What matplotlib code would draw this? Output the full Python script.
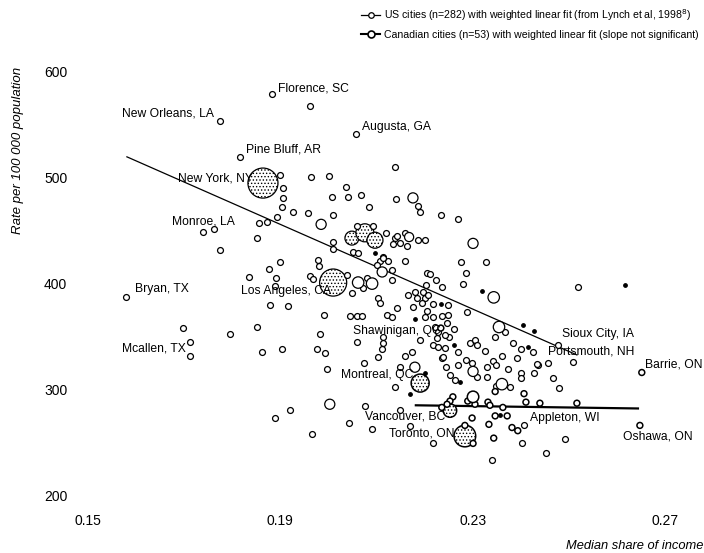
import matplotlib
matplotlib.use("Agg")
import matplotlib.pyplot as plt
from matplotlib.lines import Line2D
import numpy as np

plt.rcParams['font.family'] = ['Liberation Sans', 'DejaVu Sans']
plt.rcParams['hatch.linewidth'] = 0.6

# US cities: median share of income vs mortality rate (small open circles)
us_x = [0.1775, 0.1883, 0.1962, 0.2057, 0.1816, 0.2139, 0.1900, 0.1964, 0.2001, 0.2037,
        0.2041, 0.2068, 0.2008, 0.2084, 0.2141, 0.2186, 0.2191, 0.2234, 0.2270, 0.2010,
        0.1926, 0.1958, 0.1893, 0.1872, 0.1856, 0.1852, 0.1906, 0.1906, 0.1904, 0.1739,
        0.1762, 0.1775, 0.1900, 0.1876, 0.1978, 0.1980, 0.2010, 0.2010, 0.1835, 0.1891,
        0.1889, 0.1962, 0.1968, 0.1879, 0.1916, 0.1991, 0.1852, 0.1795, 0.1983, 0.2045,
        0.2060, 0.2070, 0.2039, 0.2072, 0.2080, 0.2103, 0.2107, 0.2049, 0.2060, 0.2093,
        0.2120, 0.2139, 0.2051, 0.2062, 0.2114, 0.2107, 0.2124, 0.2101, 0.2132, 0.2132,
        0.2122, 0.2132, 0.2143, 0.2143, 0.2159, 0.2186, 0.2201, 0.2134, 0.2149, 0.2164,
        0.2114, 0.2159, 0.2276, 0.2328, 0.2286, 0.2205, 0.2211, 0.2224, 0.2236, 0.2280,
        0.2203, 0.2519, 0.2180, 0.2197, 0.2184, 0.2201, 0.2195, 0.2176, 0.2207, 0.2166,
        0.2218, 0.2249, 0.2205, 0.2249, 0.2288, 0.2201, 0.2218, 0.2236, 0.2247, 0.2261,
        0.2222, 0.2228, 0.2251, 0.2191, 0.2226, 0.2218, 0.2228, 0.2243, 0.2270, 0.2367,
        0.2347, 0.2295, 0.2305, 0.2309, 0.2326, 0.2384, 0.2401, 0.2478, 0.2361, 0.2392,
        0.2342, 0.2286, 0.2299, 0.2436, 0.2457, 0.2509, 0.2159, 0.2174, 0.2236, 0.2149,
        0.2245, 0.2270, 0.2330, 0.2114, 0.2114, 0.1862, 0.1904, 0.1976, 0.1993, 0.2060,
        0.1997, 0.2074, 0.2112, 0.2103, 0.2139, 0.2238, 0.2243, 0.2330, 0.2309, 0.2253,
        0.2263, 0.2426, 0.2349, 0.2374, 0.2401, 0.2401, 0.2434, 0.2428, 0.2467, 0.2480,
        0.2349, 0.2378, 0.1579, 0.1712, 0.1698, 0.1712, 0.1920, 0.1889, 0.2043, 0.2076,
        0.1966, 0.2091, 0.2149, 0.2170, 0.2218, 0.2407, 0.2403, 0.2453, 0.2492, 0.2340]
us_y = [554, 579, 568, 541, 520, 510, 503, 501, 502, 491,
        482, 484, 482, 472, 480, 473, 468, 465, 461, 465,
        468, 467, 463, 458, 457, 443, 490, 481, 472, 449,
        452, 432, 420, 414, 422, 417, 439, 433, 406, 405,
        398, 407, 404, 380, 379, 370, 359, 352, 352, 369,
        369, 369, 408, 396, 405, 386, 382, 391, 454, 454,
        448, 443, 430, 429, 425, 421, 421, 418, 413, 403,
        370, 368, 377, 445, 448, 441, 441, 437, 438, 436,
        424, 421, 420, 420, 410, 410, 409, 403, 397, 400,
        399, 397, 392, 392, 386, 386, 382, 378, 389, 389,
        381, 380, 374, 370, 373, 368, 368, 369, 363, 357,
        359, 354, 350, 347, 349, 342, 340, 339, 335, 354,
        350, 344, 347, 342, 336, 344, 338, 342, 332, 330,
        327, 328, 325, 323, 325, 326, 332, 335, 330, 321,
        321, 323, 321, 350, 344, 335, 338, 338, 334, 345,
        319, 325, 338, 331, 302, 331, 351, 312, 312, 314,
        309, 335, 323, 319, 316, 311, 324, 316, 311, 301,
        303, 302, 387, 332, 358, 345, 281, 273, 268, 284,
        258, 263, 281, 265, 249, 266, 249, 240, 253, 233]

# US cities drawn as small filled dots
us_dot_x = [0.2097, 0.2320, 0.2617, 0.2234, 0.2180, 0.2261, 0.2405, 0.2428, 0.2415, 0.2201,
            0.2170, 0.2274]
us_dot_y = [429, 393, 399, 381, 367, 342, 361, 355, 340, 316, 296, 307]

# larger US cities (relative population weight)
us_big_x = [0.1864, 0.2010, 0.2049, 0.2076, 0.2097, 0.1985, 0.2176, 0.2168, 0.2112, 0.2344,
            0.2355, 0.2361, 0.2180, 0.2301, 0.2301, 0.2003, 0.2062, 0.2091]
us_big_y = [495, 401, 443, 448, 441, 456, 481, 444, 411, 387,
            359, 305, 321, 317, 438, 286, 401, 400]
us_big_w = [18, 14.5, 3.3, 6, 4.6, 1.4, 1.4, 1, 1.4, 2,
            2, 2, 1.4, 1.4, 1.4, 1.4, 2, 2]

# Canadian cities
ca_x = [0.2191, 0.2284, 0.2253, 0.2234, 0.2652, 0.2648, 0.2259, 0.2253, 0.2247, 0.2290,
        0.2305, 0.2332, 0.2336, 0.2363, 0.2411, 0.2440, 0.2517, 0.2299, 0.2347, 0.2372,
        0.2334, 0.2382, 0.2394, 0.2284, 0.2301, 0.2344, 0.2236, 0.2407, 0.2347, 0.2301]
ca_y = [306, 256, 280, 358, 316, 266, 293, 289, 286, 289,
        286, 288, 285, 283, 288, 287, 287, 273, 275, 275,
        267, 264, 261, 266, 249, 254, 283, 296, 298, 293]
ca_w = [6, 9, 3, 0, 0, 0, 0, 0, 0, 0,
        0, 0, 0, 0, 0, 0, 0, 0, 0, 0,
        0, 0, 0, 0, 0, 0, 0, 0, 0, 2]
ca_dot_x = [0.2357]
ca_dot_y = [276]

# weighted linear fits
us_fit_x = [0.1581, 0.2517]
us_fit_slope, us_fit_icpt = -2000.0, 836.0
ca_fit_x = [0.2182, 0.2644]
ca_fit_slope, ca_fit_icpt = -65.0, 299.2

# labelled cities
label_text = ['New Orleans, LA', 'Florence, SC', 'Augusta, GA', 'Pine Bluff, AR', 'New York, NY',
              'Monroe, LA', 'Bryan, TX', 'Mcallen, TX', 'Los Angeles, CA', 'Shawinigan, QC',
              'Montreal, QC', 'Vancouver, BC', 'Toronto, ON', 'Appleton, WI', 'Oshawa, ON',
              'Barrie, ON', 'Sioux City, IA', 'Portsmouth, NH']
label_x = [0.1775, 0.1883, 0.2057, 0.1816, 0.1864, 0.1739, 0.1579, 0.1712, 0.2010, 0.2234,
           0.2191, 0.2253, 0.2284, 0.2407, 0.2648, 0.2652, 0.2478, 0.2509]
label_y = [554, 579, 541, 520, 495, 449, 387, 332, 401, 358,
           306, 280, 256, 266, 266, 316, 342, 326]
# text offsets in pixels and alignment
label_off = [(-6, 7, 'right'), (6, 6, 'left'), (6, 7, 'left'), (6, 7, 'left'), (-10, 5, 'right'),
             (-31, 10, 'left'), (9, 8, 'left'), (-4, 7, 'right'), (-2, -8, 'right'), (0, -3, 'right'),
             (-7, 8, 'right'), (-5, -6, 'right'), (-10, 2, 'right'), (6, 7, 'left'), (-17, -11, 'left'),
             (3, 8, 'left'), (4, 11, 'left'), (-25, 10, 'left')]


def msize(w):
    return 18 + 25 * np.asarray(w, dtype=float)


fig = plt.figure(figsize=(7.04, 5.53), dpi=100)
ax = fig.add_axes([0.0994, 0.0958, 0.8806, 0.7957])

# fit lines
fx = np.array(us_fit_x)
ax.plot(fx, us_fit_slope * fx + us_fit_icpt, color='black', lw=0.9, zorder=1)
cx = np.array(ca_fit_x)
ax.plot(cx, ca_fit_slope * cx + ca_fit_icpt, color='black', lw=1.6, zorder=1)

# points
ax.scatter(us_x, us_y, s=msize(0), facecolors='white', edgecolors='black', linewidths=0.9, zorder=3)
ax.scatter(us_dot_x, us_dot_y, s=6, color='black', zorder=3)
bw = np.array(us_big_w)
big = bw >= 3
ax.scatter(np.array(us_big_x)[~big], np.array(us_big_y)[~big], s=msize(bw[~big]),
           facecolors='white', edgecolors='black', linewidths=0.9, zorder=3)
ax.scatter(np.array(us_big_x)[big], np.array(us_big_y)[big], s=msize(bw[big]),
           facecolors='white', edgecolors='black', linewidths=0.9, hatch='.....', zorder=2)

cw = np.array(ca_w)
cbig = cw >= 3
ax.scatter(np.array(ca_x)[~cbig], np.array(ca_y)[~cbig], s=msize(cw[~cbig]),
           facecolors='white', edgecolors='black', linewidths=1.1, zorder=3)
ax.scatter(np.array(ca_x)[cbig], np.array(ca_y)[cbig], s=msize(cw[cbig]),
           facecolors='white', edgecolors='black', linewidths=1.1, hatch='.....', zorder=2)
ax.scatter(ca_dot_x, ca_dot_y, s=6, color='black', zorder=3)

for t, x, y, (dx, dy, ha) in zip(label_text, label_x, label_y, label_off):
    ax.annotate(t, (x, y), xytext=(dx, dy), textcoords='offset pixels',
                ha=ha, va='center', fontsize=8.7, zorder=5)

ax.set_xlim(0.14626, 0.27521)
ax.set_ylim(195.5, 611.3)
ax.set_xticks([0.15, 0.19, 0.23, 0.27])
ax.set_xticklabels(['0.15', '0.19', '0.23', '0.27'])
ax.set_yticks([200, 300, 400, 500, 600])
ax.tick_params(axis='x', length=0, pad=10, labelsize=10)
ax.tick_params(axis='y', length=0, pad=2, labelsize=10)
for sp in ax.spines.values():
    sp.set_visible(False)

ax.set_ylabel('Rate per 100 000 population', fontsize=9.5, style='italic')
ax.yaxis.set_label_coords(-0.074, 0.795)
ax.set_xlabel('Median share of income', fontsize=9.3, style='italic', loc='right')
ax.xaxis.set_label_coords(1.021, -0.091)

handles = [Line2D([], [], color='black', lw=0.9, marker='o', ms=4, mfc='white', mew=0.9),
           Line2D([], [], color='black', lw=1.5, marker='o', ms=5, mfc='white', mew=1.2)]
labels = ['US cities (n=282) with weighted linear fit (from Lynch et al, 1998$^8$)',
          'Canadian cities (n=53) with weighted linear fit (slope not significant)']
fig.legend(handles, labels, loc='upper right', bbox_to_anchor=(0.999, 0.995), frameon=False,
           fontsize=7.6, handlelength=1.8, handletextpad=0.4, labelspacing=0.7, borderaxespad=0)

fig.savefig('out.png', dpi=100)
